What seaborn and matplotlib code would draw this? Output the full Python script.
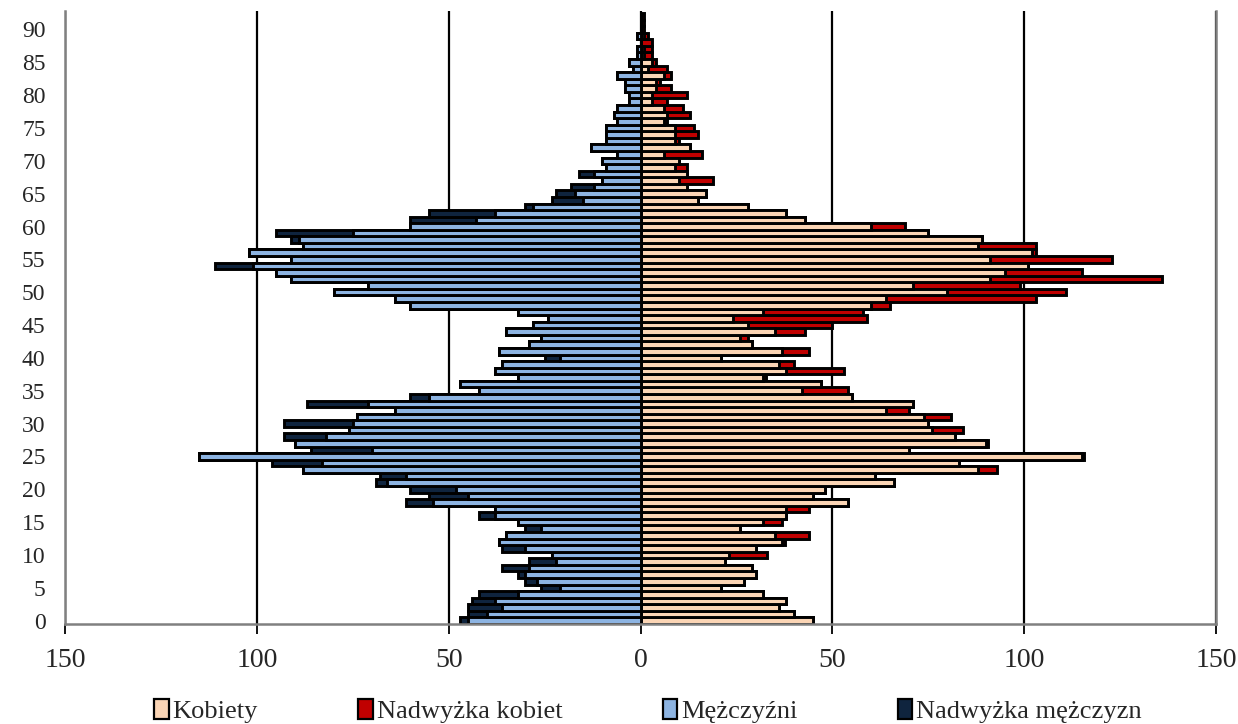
import numpy as np
import pandas as pd
import matplotlib
matplotlib.use("Agg")
import matplotlib.pyplot as plt
import seaborn as sns
from matplotlib.patches import Patch

# ---- data ----
ages = list(range(93))
men = [47, 45, 45, 44, 42, 26, 30, 32, 36, 29,
       23, 36, 37, 35, 30, 32, 42, 38, 61, 55,
       60, 69, 68, 88, 96, 115, 86, 90, 93, 76,
       93, 74, 64, 87, 60, 42, 47, 32, 38, 36,
       25, 37, 29, 26, 35, 28, 24, 32, 60, 64,
       80, 71, 91, 95, 111, 91, 102, 88, 91, 95,
       60, 60, 55, 30, 23, 22, 18, 10, 16, 9,
       10, 6, 13, 9, 9, 9, 6, 7, 6, 3,
       3, 4, 4, 6, 2, 3, 1, 1, 0, 1,
       0, 0, 0]
women = [45, 40, 36, 38, 32, 21, 27, 30, 29, 22,
         33, 30, 37.7, 44, 26, 37, 38, 44, 54, 45,
         48, 66, 61, 93, 83, 115.6, 70, 90.7, 82, 84,
         75, 81, 70, 71, 55, 54, 47, 32.8, 53, 40,
         21, 44, 29, 28, 43, 50, 59, 58, 65, 103,
         111, 99, 136, 115, 101, 123, 103, 103, 89, 75,
         69, 43, 38, 28, 15, 17, 12, 19, 12, 12,
         10, 16, 13, 10, 15, 14, 7, 13, 11, 7,
         12, 8, 5, 8, 7, 4, 3, 3, 3, 2,
         1, 1, 1]
x_ticks = [-150, -100, -50, 0, 50, 100, 150]
x_tick_labels = ["150", "100", "50", "0", "50", "100", "150"]
y_ticks = list(range(0, 91, 5))
series_names = ["Kobiety", "Nadwyżka kobiet", "Mężczyźni", "Nadwyżka mężczyzn"]

C_W = "#FBD5B5"
C_WE = "#C00000"
C_M = "#8DB4E2"
C_ME = "#0F243E"

sns.set_theme(style="white")
plt.rcParams['font.family'] = ['Liberation Serif', 'DejaVu Serif']

df = pd.DataFrame({"age": ages, "men": men, "women": women})
df["common"] = np.minimum(df["men"], df["women"])
df["men_neg"] = -df["men"]
df["common_neg"] = -df["common"]

fig = plt.figure(figsize=(12.38, 7.24), dpi=100)
ax = fig.add_axes([65 / 1238, 1 - 624 / 724, (1216 - 65) / 1238, (624 - 11) / 724])

kw = dict(orient="h", native_scale=True, width=1.0, saturation=1,
          edgecolor="black", linewidth=2.1, errorbar=None, ax=ax)
sns.barplot(data=df, x="women", y="age", color=C_WE, **kw)
sns.barplot(data=df, x="common", y="age", color=C_W, **kw)
sns.barplot(data=df, x="men_neg", y="age", color=C_ME, **kw)
sns.barplot(data=df, x="common_neg", y="age", color=C_M, **kw)

ax.set_xlim(-150, 150)
ax.set_ylim(-0.5, 92.8)
ax.set_xticks(x_ticks)
ax.set_xticklabels(x_tick_labels)
ax.set_yticks(y_ticks)
ax.set_yticklabels([str(v) for v in y_ticks])
ax.set_xlabel("")
ax.set_ylabel("")

ax.set_axisbelow(True)
ax.xaxis.grid(True, color="black", linewidth=1.6)
ax.yaxis.grid(False)

for side in ("left", "right", "bottom"):
    ax.spines[side].set_visible(True)
    ax.spines[side].set_color("#808080")
    ax.spines[side].set_linewidth(1.8)
ax.spines["top"].set_visible(False)

ax.tick_params(axis="x", direction="out", length=7, width=1.3, color="black",
               labelsize=20, pad=10, bottom=True)
ax.tick_params(axis="y", length=0, labelsize=17, pad=14)

handles = [Patch(facecolor=c, edgecolor="black", linewidth=1.6)
           for c in (C_W, C_WE, C_M, C_ME)]
fig.legend(handles, series_names, loc="center", bbox_to_anchor=(648 / 1238, 1 - 711 / 724),
           ncol=4, frameon=False, fontsize=19, handlelength=0.55, handleheight=0.8,
           handletextpad=0.15, columnspacing=3.8)

fig.savefig("out.png", dpi=100, facecolor="white")
